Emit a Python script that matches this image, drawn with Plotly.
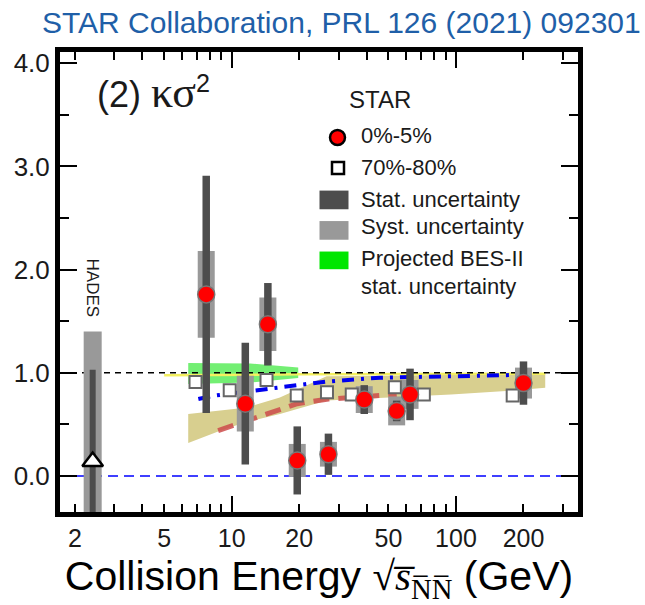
import numpy as np
import plotly.graph_objects as go

# ---------------- data ----------------
# Collision energies (GeV) of the STAR BES-I points
energy = [7.7, 11.5, 14.5, 19.6, 27, 39, 54.4, 62.4, 200]
# kappa*sigma^2 for 0-5% central collisions
k2_central = [1.76, 0.70, 1.47, 0.15, 0.21, 0.74, 0.63, 0.79, 0.90]
stat_central = [1.15, 0.59, 0.40, 0.33, 0.20, 0.14, 0.10, 0.25, 0.21]
syst_central = [0.42, 0.27, 0.26, 0.16, 0.12, 0.13, 0.14, 0.14, 0.15]

# 70-80% peripheral (drawn at slightly shifted energies for readability)
energy_periph = [6.9, 9.8, 14.3, 19.5, 26.6, 34.3, 53.4, 71.9, 179]
k2_periph = [0.91, 0.83, 0.93, 0.78, 0.81, 0.79, 0.86, 0.79, 0.78]

# HADES point
hades_energy = [2.4]
hades_k2 = [0.14]
hades_stat = [0.89]
hades_syst = [1.26]

# Projected BES-II statistical uncertainty band
bes2_energy = [6.4, 12.1, 19.8]
bes2_hi = [1.095, 1.09, 1.05]
bes2_lo = [0.89, 0.905, 0.95]

# Model band (khaki)
band_energy = [6.4, 8.7, 11.5, 16.4, 26.5, 46, 95, 174, 250]
band_hi = [0.60, 0.63, 0.66, 0.76, 0.965, 0.97, 0.98, 0.985, 0.99]
band_lo = [0.32, 0.43, 0.52, 0.60, 0.73, 0.76, 0.79, 0.825, 0.855]

# Model curves
red_energy = [8.7, 11.5, 14.5, 19.6, 27, 39, 54.4]
red_k2 = [0.44, 0.53, 0.60, 0.70, 0.745, 0.77, 0.79]
blue_energy = [7.1, 8.3, 10, 12.3, 15.3, 18.8, 26.5, 45.8, 94, 174, 200]
blue_k2 = [0.745, 0.777, 0.80, 0.825, 0.85, 0.872, 0.915, 0.952, 0.968, 0.977, 0.98]
yellow_energy = [5.0, 20, 250]
yellow_k2 = [0.975, 0.985, 0.99]

# Axis settings
x_range = [1.716, 350]
y_range = [-0.35, 4.11]
x_labels = [2, 5, 10, 20, 50, 100, 200]
x_minor = [3, 4, 6, 7, 8, 9, 30, 40, 60, 70, 80, 90, 300]
x_long = [10, 100]

legend_title = "STAR"
legend_labels = ["0%-5%", "70%-80%", "Stat. uncertainty", "Syst. uncertainty",
                 "Projected BES-II", "stat. uncertainty"]

# ---------------- figure ----------------
W, H = 645, 605
L, R, T, B = 60, 67, 52, 85
PW, PH = W - L - R, H - T - B


def px(xp):
    return (xp - L) / PW


def py(yp):
    return (T + PH - yp) / PH


SANS = "Liberation Sans, Arial, sans-serif"
SERIF = "Liberation Serif, Times New Roman, serif"

fig = go.Figure()

# khaki model band
fig.add_trace(go.Scatter(x=band_energy + band_energy[::-1], y=band_hi + band_lo[::-1],
                         fill="toself", fillcolor="#d8cf8f", line=dict(width=0),
                         mode="lines", hoverinfo="skip", showlegend=False))
# green BES-II band
fig.add_trace(go.Scatter(x=bes2_energy + bes2_energy[::-1], y=bes2_hi + bes2_lo[::-1],
                         fill="toself", fillcolor="rgba(0,225,0,0.55)", line=dict(width=0),
                         mode="lines", hoverinfo="skip", showlegend=False))
# thin yellow curve
fig.add_trace(go.Scatter(x=yellow_energy, y=yellow_k2, mode="lines",
                         line=dict(color="#f4f060", width=2.5), showlegend=False))
# reference lines at 1 and 0
fig.add_trace(go.Scatter(x=x_range, y=[1, 1], mode="lines",
                         line=dict(color="black", width=1.5, dash="6px,5px"), showlegend=False))
fig.add_trace(go.Scatter(x=x_range, y=[0, 0], mode="lines",
                         line=dict(color="#0000ff", width=1.5, dash="10px,6px"), showlegend=False))
# model curves
fig.add_trace(go.Scatter(x=red_energy, y=red_k2, mode="lines",
                         line=dict(color="rgba(205,75,75,0.85)", width=5, dash="16px,9px"),
                         showlegend=False))
fig.add_trace(go.Scatter(x=blue_energy, y=blue_k2, mode="lines",
                         line=dict(color="#0000ee", width=4, dash="12px,7px,3px,7px"),
                         showlegend=False))

# uncertainty boxes drawn as thick error bars
clear = dict(size=1, color="rgba(0,0,0,0)")
fig.add_trace(go.Scatter(x=hades_energy, y=hades_k2, mode="markers", marker=clear,
                         error_y=dict(type="data", array=hades_syst, thickness=18, width=0,
                                      color="#999999"), showlegend=False))
fig.add_trace(go.Scatter(x=hades_energy, y=hades_k2, mode="markers", marker=clear,
                         error_y=dict(type="data", array=hades_stat, thickness=6, width=0,
                                      color="#4d4d4d"), showlegend=False))
fig.add_trace(go.Scatter(x=energy, y=k2_central, mode="markers", marker=clear,
                         error_y=dict(type="data", array=syst_central, thickness=17, width=0,
                                      color="#999999"), showlegend=False))
fig.add_trace(go.Scatter(x=energy, y=k2_central, mode="markers", marker=clear,
                         error_y=dict(type="data", array=stat_central, thickness=7.5, width=0,
                                      color="#4d4d4d"), showlegend=False))

# data markers
fig.add_trace(go.Scatter(x=energy_periph, y=k2_periph, mode="markers",
                         marker=dict(symbol="square", size=12, color="white",
                                     line=dict(color="#666666", width=2)), showlegend=False))
fig.add_trace(go.Scatter(x=hades_energy, y=hades_k2, mode="markers",
                         marker=dict(symbol="triangle-up", size=18, color="white",
                                     line=dict(color="black", width=2.5)), showlegend=False))
fig.add_trace(go.Scatter(x=energy, y=k2_central, mode="markers",
                         marker=dict(symbol="circle", size=17, color="#ff0000",
                                     line=dict(color="#777777", width=1.5)), showlegend=False))

# overlay axis carrying the long decade ticks
fig.add_trace(go.Scatter(x=[10], y=[None], xaxis="x2", yaxis="y", showlegend=False,
                         hoverinfo="skip"))

lx = np.log10(x_range).tolist()
fig.update_layout(
    width=W, height=H, margin=dict(l=L, r=R, t=T, b=B),
    paper_bgcolor="white", plot_bgcolor="white",
    font=dict(family=SANS, color="#1a1a1a"),
    showlegend=False,
    xaxis=dict(type="log", range=lx, tickmode="array", tickvals=x_labels,
               ticktext=[str(v) for v in x_labels], ticks="inside", ticklen=8,
               tickwidth=1.5, tickcolor="black", showline=True, linewidth=5,
               linecolor="black", mirror="ticks", showgrid=False, zeroline=False,
               tickfont=dict(size=25, family=SANS, color="#1a1a1a"),
               minor=dict(tickmode="array", tickvals=x_minor, ticks="inside", ticklen=8,
                          tickwidth=1.5, tickcolor="black", showgrid=False),
               title=dict(text="Collision Energy <span style='font-family:Liberation Serif'>"
                               "√<i>s\u0305</i><sub>N\u0305N\u0305</sub></span> (GeV)",
                          font=dict(size=41, family=SANS, color="black"), standoff=12)),
    xaxis2=dict(type="log", range=lx, overlaying="x", anchor="y", side="bottom",
                tickmode="array", tickvals=x_long, ticks="inside", ticklen=16,
                tickwidth=1.5, tickcolor="black", showticklabels=False, showline=True,
                linewidth=5, linecolor="black", mirror="ticks", showgrid=False,
                zeroline=False),
    yaxis=dict(range=y_range, tickmode="linear", tick0=0, dtick=1, tickformat=".1f",
               ticks="inside", ticklen=17, tickwidth=1.5, tickcolor="black",
               showline=True, linewidth=5, linecolor="black", mirror="ticks",
               showgrid=False, zeroline=False,
               tickfont=dict(size=26, family=SANS, color="#1a1a1a"),
               minor=dict(tickmode="linear", tick0=0, dtick=0.5, ticks="inside", ticklen=9,
                          tickwidth=1.5, tickcolor="black", showgrid=False)),
)

annotations = [
    dict(text="STAR Collaboration, PRL 126 (2021) 092301", x=px(643), y=py(22),
         xanchor="right", yanchor="middle", font=dict(size=30, color="#1f5fa8", family=SANS)),
    dict(text="(2) <span style='font-family:Liberation Serif;font-size:44px'>κσ</span>"
              "<sup>2</sup>",
         x=px(95), y=py(93), xanchor="left", yanchor="middle",
         font=dict(size=36, color="#1a1a1a", family=SANS)),
    dict(text=legend_title, x=px(347), y=py(100), xanchor="left", yanchor="middle",
         font=dict(size=24, color="#1a1a1a", family=SANS)),
    dict(text="HADES", x=np.log10(hades_energy[0]), y=1.82, xref="x", yref="y",
         textangle=90, xanchor="center", yanchor="middle",
         font=dict(size=17, color="#1a1a1a", family=SANS)),
]
row_y = [137, 169, 202, 230, 262, 291]
for lab, yy in zip(legend_labels, row_y):
    annotations.append(dict(text=lab, x=px(359), y=py(yy), xanchor="left", yanchor="middle",
                            font=dict(size=22, color="#1a1a1a", family=SANS)))
for a in annotations:
    a.setdefault("xref", "paper")
    a.setdefault("yref", "paper")
    a["showarrow"] = False
fig.update_layout(annotations=annotations)

# legend swatches
shapes = [
    dict(type="circle", xsizemode="pixel", ysizemode="pixel", xanchor=px(337.5),
         yanchor=py(139), x0=-7.5, x1=7.5, y0=-7.5, y1=7.5, fillcolor="#ff0000",
         line=dict(color="black", width=2.5)),
    dict(type="rect", xsizemode="pixel", ysizemode="pixel", xanchor=px(338),
         yanchor=py(170), x0=-6, x1=6, y0=-6, y1=6, fillcolor="white",
         line=dict(color="black", width=2.5)),
    dict(type="rect", x0=px(319.5), x1=px(348.5), y0=py(212), y1=py(193),
         fillcolor="#4d4d4d", line=dict(width=0)),
    dict(type="rect", x0=px(319.5), x1=px(348.5), y0=py(243), y1=py(224),
         fillcolor="#999999", line=dict(width=0)),
    dict(type="rect", x0=px(319.5), x1=px(348.5), y0=py(273), y1=py(255),
         fillcolor="#00e600", line=dict(width=0)),
]
for s in shapes:
    s["xref"] = "paper"
    s["yref"] = "paper"
    s["layer"] = "above"
fig.update_layout(shapes=shapes)

fig.write_html("out.html")
